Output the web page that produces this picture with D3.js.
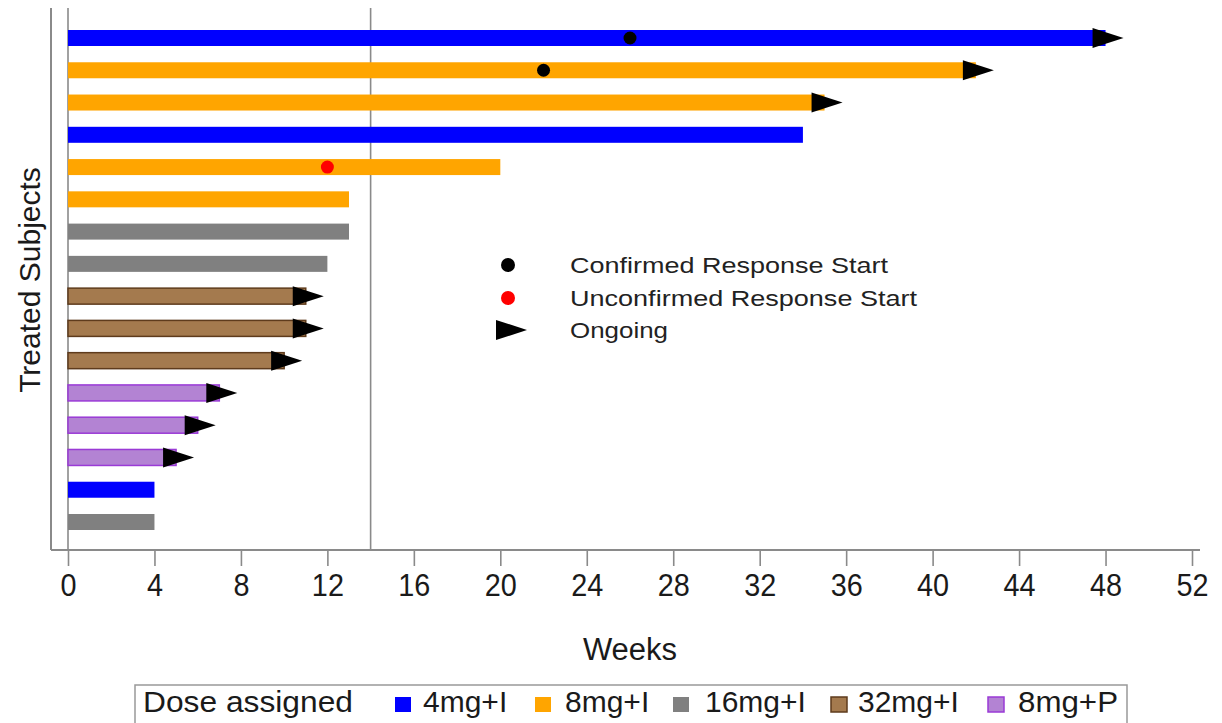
<!DOCTYPE html>
<html>
<head>
<meta charset="utf-8">
<script src="https://cdnjs.cloudflare.com/ajax/libs/d3/7.8.5/d3.min.js"></script>
<style>
  html, body { margin: 0; padding: 0; background: #fff; }
  svg { display: block; }
</style>
</head>
<body>
<svg id="chart" width="1222" height="723"></svg>
<script>
// Swimmer plot: treatment duration per subject, in weeks
const subjects = ["S01","S02","S03","S04","S05","S06","S07","S08","S09","S10","S11","S12","S13","S14","S15","S16"];
const doses = ["4mg+I","8mg+I","8mg+I","4mg+I","8mg+I","8mg+I","16mg+I","16mg+I","32mg+I","32mg+I","32mg+I","8mg+P","8mg+P","8mg+P","4mg+I","16mg+I"];
const durationWeeks = [48, 42, 35, 34, 20, 13, 13, 12, 11, 11, 10, 7, 6, 5, 4, 4];
const ongoing = [true, true, true, false, false, false, false, false, true, true, true, true, true, true, false, false];
const confirmedStart = [26, 22, null, null, null, null, null, null, null, null, null, null, null, null, null, null];
const unconfirmedStart = [null, null, null, null, 12, null, null, null, null, null, null, null, null, null, null, null];
const xTicks = [0, 4, 8, 12, 16, 20, 24, 28, 32, 36, 40, 44, 48, 52];
const referenceWeek = 14;
const doseGroups = ["4mg+I", "8mg+I", "16mg+I", "32mg+I", "8mg+P"];
const doseFill = ["#0000ff", "#ffa500", "#808080", "#a47a4e", "#b383d3"];
const doseStroke = ["#0000ff", "#ffa500", "#808080", "#5e3b1c", "#9a3ad6"];
const markerLabels = ["Confirmed Response Start", "Unconfirmed Response Start", "Ongoing"];

const svg = d3.select("#chart");
const sans = "'Liberation Sans', Arial, sans-serif";
const ink = "#1a1a1a";

const x = d3.scaleLinear().domain([0, 52]).range([68, 1192]);
const y = d3.scalePoint().domain(subjects).range([38, 522]);
const fill = d3.scaleOrdinal().domain(doseGroups).range(doseFill);
const stroke = d3.scaleOrdinal().domain(doseGroups).range(doseStroke);
const outlined = g => g === "32mg+I" || g === "8mg+P";

const rows = subjects.map((s, i) => ({
  id: s, dose: doses[i], end: durationWeeks[i], ongoing: ongoing[i],
  conf: confirmedStart[i], unconf: unconfirmedStart[i]
}));

const plotTop = 8, plotBottom = 550, axisLeft = 51;
const barH = 16;

// frame: left axis and vertical reference lines
svg.append("line").attr("x1", axisLeft).attr("x2", axisLeft)
  .attr("y1", plotTop).attr("y2", plotBottom)
  .attr("stroke", "#8a8a8a").attr("stroke-width", 2);
[0, referenceWeek].forEach(w => {
  svg.append("line").attr("x1", x(w)).attr("x2", x(w))
    .attr("y1", plotTop).attr("y2", plotBottom)
    .attr("stroke", "#8a8a8a").attr("stroke-width", 1.6);
});

// x axis
const xAxis = d3.axisBottom(x).tickValues(xTicks).tickSize(16).tickPadding(8).tickSizeOuter(0);
const gx = svg.append("g").attr("transform", `translate(0,${plotBottom})`).call(xAxis);
gx.select(".domain").remove();
gx.selectAll(".tick line").attr("stroke", "#8a8a8a").attr("stroke-width", 1.6);
gx.selectAll(".tick text").attr("font-family", sans).attr("font-size", 31).attr("fill", ink)
  .attr("transform", "scale(0.93,1)");
svg.append("line").attr("x1", axisLeft).attr("x2", 1200)
  .attr("y1", plotBottom).attr("y2", plotBottom)
  .attr("stroke", "#8a8a8a").attr("stroke-width", 2);

// bars
svg.append("g").selectAll("rect").data(rows).join("rect")
  .attr("x", x(0))
  .attr("y", d => y(d.id) - barH / 2)
  .attr("width", d => x(d.end) - x(0))
  .attr("height", barH)
  .attr("fill", d => fill(d.dose))
  .attr("stroke", d => stroke(d.dose))
  .attr("stroke-width", d => outlined(d.dose) ? 1.5 : 0);

// ongoing arrows
const arrowPath = (cx, cy) => `M${cx - 14},${cy - 10} L${cx + 17},${cy} L${cx - 14},${cy + 10} Z`;
svg.append("g").selectAll("path").data(rows.filter(d => d.ongoing)).join("path")
  .attr("d", d => arrowPath(x(d.end) + 1, y(d.id)))
  .attr("fill", "#000");

// response start markers
svg.append("g").selectAll("circle.conf").data(rows.filter(d => d.conf != null)).join("circle")
  .attr("class", "conf").attr("cx", d => x(d.conf)).attr("cy", d => y(d.id)).attr("r", 6.5).attr("fill", "#000");
svg.append("g").selectAll("circle.unconf").data(rows.filter(d => d.unconf != null)).join("circle")
  .attr("class", "unconf").attr("cx", d => x(d.unconf)).attr("cy", d => y(d.id)).attr("r", 6.5).attr("fill", "#ff0000");

// marker legend
const mk = svg.append("g");
mk.append("circle").attr("cx", 508).attr("cy", 265).attr("r", 7).attr("fill", "#000");
mk.append("circle").attr("cx", 508).attr("cy", 298).attr("r", 7).attr("fill", "#ff0000");
mk.append("path").attr("d", arrowPath(510, 330)).attr("fill", "#000");
const markerWidths = [318, 347, 98];
markerLabels.forEach((t, i) => {
  mk.append("text").attr("x", 570).attr("y", 273 + i * 32.5)
    .attr("font-family", sans).attr("font-size", 22).attr("fill", "#222")
    .attr("textLength", markerWidths[i]).attr("lengthAdjust", "spacingAndGlyphs")
    .text(t);
});

// axis titles
svg.append("text").attr("x", 630).attr("y", 660).attr("text-anchor", "middle")
  .attr("font-family", sans).attr("font-size", 31).attr("fill", ink).text("Weeks");
svg.append("text").attr("transform", "translate(40,280) rotate(-90)").attr("text-anchor", "middle")
  .attr("font-family", sans).attr("font-size", 30).attr("fill", ink).text("Treated Subjects");

// dose legend
const lg = svg.append("g");
lg.append("rect").attr("x", 135).attr("y", 685).attr("width", 992).attr("height", 45)
  .attr("fill", "#fff").attr("stroke", "#999").attr("stroke-width", 1.5);
lg.append("text").attr("x", 143).attr("y", 712)
  .attr("font-family", sans).attr("font-size", 30).attr("fill", ink)
  .attr("textLength", 210).attr("lengthAdjust", "spacingAndGlyphs").text("Dose assigned");
const legX = [[395, 423], [535, 565], [673, 705], [831, 858], [988, 1018]];
doseGroups.forEach((g, i) => {
  lg.append("rect").attr("x", legX[i][0]).attr("y", 697).attr("width", 16).attr("height", 15)
    .attr("fill", fill(g)).attr("stroke", stroke(g)).attr("stroke-width", outlined(g) ? 1.5 : 0);
  lg.append("text").attr("x", legX[i][1]).attr("y", 712)
    .attr("font-family", sans).attr("font-size", 30).attr("fill", ink)
    .attr("textLength", g === "8mg+P" ? 100 : null).attr("lengthAdjust", "spacingAndGlyphs")
    .text(g);
});
</script>
</body>
</html>
